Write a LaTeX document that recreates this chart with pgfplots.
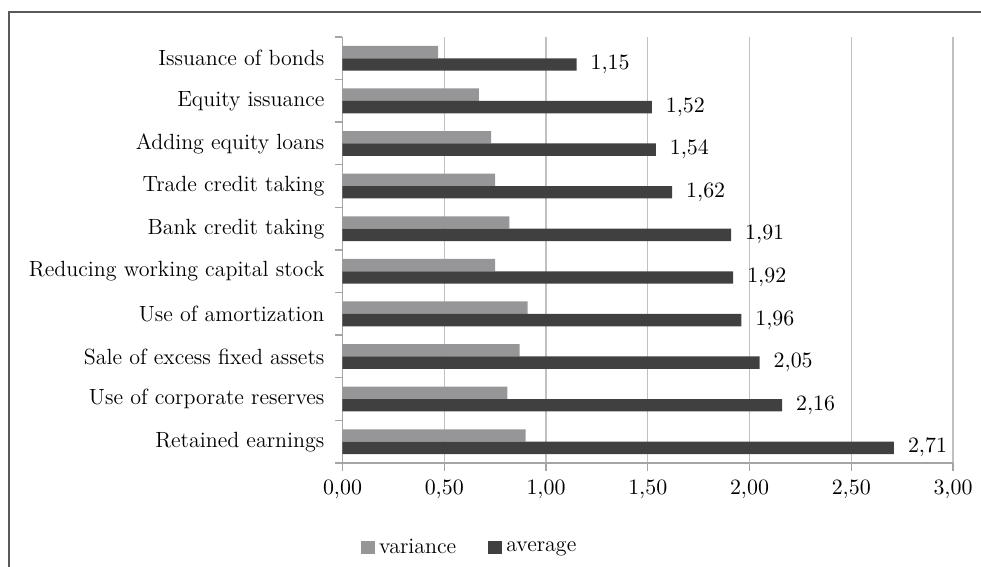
\documentclass[border=0pt]{standalone}
\usepackage{pgfplots}
\pgfplotsset{compat=1.18}
\definecolor{varc}{RGB}{150,150,152}
\definecolor{avgc}{RGB}{64,64,64}
\definecolor{gridc}{RGB}{192,192,192}
\definecolor{axc}{RGB}{165,165,165}
\definecolor{framec}{RGB}{90,90,90}
\begin{document}
\begin{tikzpicture}
\begin{axis}[
  at={(171.25pt,52pt)}, anchor=south west,
  scale only axis, width=305.25pt, height=213pt,
  xbar, bar width=6.2pt,
  xmin=0, xmax=3, ymin=-0.5, ymax=9.5,
  xtick={0,0.5,1,1.5,2,2.5,3},
  xmajorgrids, grid style={gridc, line width=0.6pt},
  axis x line*=bottom, axis y line*=left,
  axis line style={axc, line width=0.7pt, -},
  tick align=outside,
  major tick length=4pt,
  x tick style={axc, line width=0.7pt},
  ytick={0,1,2,3,4,5,6,7,8,9},
  major y tick style={draw=none},
  minor ytick={-0.5,0.5,1.5,2.5,3.5,4.5,5.5,6.5,7.5,8.5,9.5},
  minor y tick style={axc, line width=0.7pt},
  minor tick length=3.5pt,
  yticklabels={Retained earnings, Use of corporate reserves, Sale of excess fixed assets, Use of amortization, Reducing working capital stock, Bank credit taking, Trade credit taking, Adding equity loans, Equity issuance, Issuance of bonds},
  yticklabel style={font=\fontsize{11}{13}\selectfont, text=black, xshift=-1.5pt},
  xticklabel style={font=\fontsize{10.5}{12}\selectfont, text=black, yshift=-1pt},
  /pgf/number format/.cd, use comma, fixed, fixed zerofill, precision=2,
  /pgfplots/.cd,
  legend style={at={(0.21,-0.20)}, anchor=center, draw=none, legend columns=2,
    font=\fontsize{11}{13}\selectfont,
    /tikz/every even column/.append style={column sep=14pt}},
  legend image code/.code={\fill[#1] (0pt,-3pt) rectangle (7pt,3.5pt);},
]
\addplot[fill=varc, draw=none, bar shift=3.1pt] coordinates {
  (0.90,0) (0.81,1) (0.87,2) (0.91,3) (0.75,4) (0.82,5) (0.75,6) (0.73,7) (0.67,8) (0.47,9)};
\addlegendentry{variance}
\addplot[fill=avgc, draw=none, bar shift=-3.1pt,
  nodes near coords,
  nodes near coords style={font=\fontsize{10.5}{12}\selectfont, text=black, anchor=west, xshift=3.5pt}] coordinates {
  (2.71,0) (2.16,1) (2.05,2) (1.96,3) (1.92,4) (1.91,5) (1.62,6) (1.54,7) (1.52,8) (1.15,9)};
\addlegendentry{average}
\end{axis}
\draw[framec, line width=1pt] (4.5pt,0pt) -- (4.5pt,277.5pt) -- (490.5pt,277.5pt);
\pgfresetboundingbox
\useasboundingbox (0,0) rectangle (490.5pt,283.5pt);
\end{tikzpicture}
\end{document}
